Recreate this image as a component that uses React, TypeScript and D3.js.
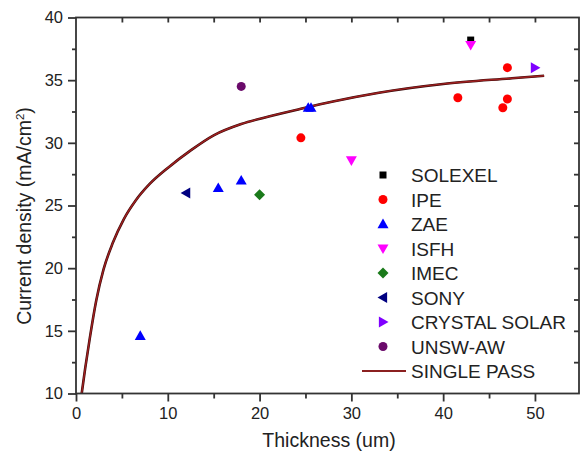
import React, { useRef, useEffect } from 'react';
import * as d3 from 'd3';

// scatter data, one small array pair per group
const solexelX = [43];
const solexelY = [38.2];
const ipeX = [24.5, 41.6, 47, 47, 46.5];
const ipeY = [30.4, 33.6, 36, 33.5, 32.8];
const zaeX = [7, 15.5, 18, 25.3, 25.6];
const zaeY = [14.6, 26.4, 27, 32.8, 32.8];
const isfhX = [43, 30];
const isfhY = [37.8, 28.6];
const imecX = [20];
const imecY = [25.85];
const sonyX = [12];
const sonyY = [26];
const crystalX = [50];
const crystalY = [36];
const unswX = [18];
const unswY = [34.5];

// single pass curve
const passX = [0.62, 1.0, 1.5, 2.2, 3.0, 4.0, 5.2, 6.5, 8.0, 10.0, 12.5, 15, 18, 21, 24.4, 28, 33, 40, 47.5, 51];
const passY = [10, 12.0, 14.4, 17.4, 19.9, 22.0, 23.9, 25.4, 26.7, 28.0, 29.4, 30.6, 31.5, 32.1, 32.7, 33.3, 34.0, 34.7, 35.15, 35.35];

const xTicks = [0, 10, 20, 30, 40, 50];
const yTicks = [10, 15, 20, 25, 30, 35, 40];

const series = [
  { name: 'SOLEXEL', xs: solexelX, ys: solexelY, color: '#000000', shape: 'square' },
  { name: 'IPE', xs: ipeX, ys: ipeY, color: '#ff0000', shape: 'circle' },
  { name: 'ZAE', xs: zaeX, ys: zaeY, color: '#0000ff', shape: 'up' },
  { name: 'ISFH', xs: isfhX, ys: isfhY, color: '#ff00ff', shape: 'down' },
  { name: 'IMEC', xs: imecX, ys: imecY, color: '#1a7a1a', shape: 'diamond' },
  { name: 'SONY', xs: sonyX, ys: sonyY, color: '#000080', shape: 'left' },
  { name: 'CRYSTAL SOLAR', xs: crystalX, ys: crystalY, color: '#7f00ff', shape: 'right' },
  { name: 'UNSW-AW', xs: unswX, ys: unswY, color: '#6a0a6a', shape: 'circle' },
];

const markerPath = (shape, cx, cy) => {
  const s = 5.5;
  switch (shape) {
    case 'square':
      return `M${cx - 3.5},${cy - 3.5}h7v7h-7Z`;
    case 'circle':
      return `M${cx - 4.5},${cy}a4.5,4.5 0 1,0 9,0a4.5,4.5 0 1,0 -9,0Z`;
    case 'up':
      return `M${cx},${cy - s}L${cx + s},${cy + s * 0.75}L${cx - s},${cy + s * 0.75}Z`;
    case 'down':
      return `M${cx},${cy + s}L${cx + s},${cy - s * 0.75}L${cx - s},${cy - s * 0.75}Z`;
    case 'left':
      return `M${cx - s},${cy}L${cx + s * 0.75},${cy - s}L${cx + s * 0.75},${cy + s}Z`;
    case 'right':
      return `M${cx + s},${cy}L${cx - s * 0.75},${cy - s}L${cx - s * 0.75},${cy + s}Z`;
    case 'diamond':
      return `M${cx},${cy - 5.5}L${cx + 5.5},${cy}L${cx},${cy + 5.5}L${cx - 5.5},${cy}Z`;
    default:
      return '';
  }
};

const App = () => {
  const svgRef = useRef(null);

  useEffect(() => {
    const svg = d3.select(svgRef.current);
    svg.selectAll('*').remove();

    const left = 76, right = 579, top = 17.5, bottom = 393.5;
    const axisColor = '#333333';
    const font = 'Arial, "Liberation Sans", sans-serif';

    const x = d3.scaleLinear().domain([0, 54.8]).range([left, right]);
    const y = d3.scaleLinear().domain([10, 40]).range([bottom, top]);

    // single pass curve
    const line = d3.line()
      .x(d => x(d[0]))
      .y(d => y(d[1]))
      .curve(d3.curveMonotoneX);
    const passData = passX.map((v, i) => [v, passY[i]]);
    svg.append('path')
      .attr('d', line(passData))
      .attr('fill', 'none')
      .attr('stroke', '#3a0a0a')
      .attr('stroke-width', 2.6);
    svg.append('path')
      .attr('d', line(passData))
      .attr('fill', 'none')
      .attr('stroke', '#a02020')
      .attr('stroke-width', 1.4);

    // scatter markers
    series.forEach(s => {
      svg.append('g')
        .selectAll('path')
        .data(s.xs.map((v, i) => [v, s.ys[i]]))
        .join('path')
        .attr('d', d => markerPath(s.shape, x(d[0]), y(d[1])))
        .attr('fill', s.color);
    });

    // frame
    svg.append('rect')
      .attr('x', left).attr('y', top)
      .attr('width', right - left).attr('height', bottom - top)
      .attr('fill', 'none')
      .attr('stroke', axisColor)
      .attr('stroke-width', 1.8);

    // bottom axis: ticks outward, minor at 5
    const xAxisG = svg.append('g')
      .attr('transform', `translate(0,${bottom})`)
      .call(d3.axisBottom(x).tickValues(xTicks).tickSize(8).tickPadding(6).tickFormat(d3.format('d')));
    xAxisG.select('.domain').remove();
    xAxisG.selectAll('line').attr('stroke', axisColor).attr('stroke-width', 1.8);
    xAxisG.selectAll('text').attr('font-size', 16.5).attr('font-family', font).attr('fill', '#222');
    svg.append('g')
      .attr('transform', `translate(0,${bottom})`)
      .call(d3.axisBottom(x).tickValues([5, 15, 25, 35, 45]).tickSize(5).tickFormat(() => ''))
      .call(g => g.select('.domain').remove())
      .selectAll('line').attr('stroke', axisColor).attr('stroke-width', 1.8);

    // top ticks inward
    svg.append('g')
      .attr('transform', `translate(0,${top})`)
      .call(d3.axisBottom(x).tickValues([5, 10, 15, 20, 25, 30, 35, 40, 45, 50]).tickSize(5).tickFormat(() => ''))
      .call(g => g.select('.domain').remove())
      .selectAll('line').attr('stroke', axisColor).attr('stroke-width', 1.8);

    // left axis: ticks outward, minor at 2.5
    const yAxisG = svg.append('g')
      .attr('transform', `translate(${left},0)`)
      .call(d3.axisLeft(y).tickValues(yTicks).tickSize(8).tickPadding(5));
    yAxisG.select('.domain').remove();
    yAxisG.selectAll('line').attr('stroke', axisColor).attr('stroke-width', 1.8);
    yAxisG.selectAll('text').attr('font-size', 16.5).attr('font-family', font).attr('fill', '#222');
    svg.append('g')
      .attr('transform', `translate(${left},0)`)
      .call(d3.axisLeft(y).tickValues([12.5, 17.5, 22.5, 27.5, 32.5, 37.5]).tickSize(4).tickFormat(() => ''))
      .call(g => g.select('.domain').remove())
      .selectAll('line').attr('stroke', axisColor).attr('stroke-width', 1.8);

    // right ticks inward
    svg.append('g')
      .attr('transform', `translate(${right},0)`)
      .call(d3.axisRight(y).tickValues([12.5, 15, 17.5, 20, 22.5, 25, 27.5, 30, 32.5, 35, 37.5]).tickSize(-5).tickFormat(() => ''))
      .call(g => g.select('.domain').remove())
      .selectAll('line').attr('stroke', axisColor).attr('stroke-width', 1.8);

    // axis titles
    svg.append('text')
      .attr('x', 329)
      .attr('y', 447)
      .attr('text-anchor', 'middle')
      .attr('font-size', 19.5)
      .attr('font-family', font)
      .attr('fill', '#222')
      .text('Thickness (um)');

    const yt = svg.append('text')
      .attr('transform', `translate(31,216) rotate(-90)`)
      .attr('text-anchor', 'middle')
      .attr('font-size', 19.5)
      .attr('font-family', font)
      .attr('fill', '#222');
    yt.append('tspan').text('Current density (mA/cm');
    yt.append('tspan').attr('font-size', 11.5).attr('dy', -7).text('2');
    yt.append('tspan').attr('dy', 7).text(')');

    // legend
    const legX = 383, legTextX = 411, legY0 = 175, legStep = 24.5;
    series.forEach((s, i) => {
      const cy = legY0 + i * legStep;
      svg.append('path')
        .attr('d', markerPath(s.shape, legX, cy))
        .attr('fill', s.color);
      svg.append('text')
        .attr('x', legTextX)
        .attr('y', cy + 7)
        .attr('font-size', 19)
        .attr('font-family', font)
        .attr('fill', '#222')
        .text(s.name);
    });
    const lastY = legY0 + series.length * legStep;
    svg.append('line')
      .attr('x1', 362).attr('x2', 406)
      .attr('y1', lastY).attr('y2', lastY)
      .attr('stroke', '#8b2020')
      .attr('stroke-width', 2);
    svg.append('text')
      .attr('x', legTextX)
      .attr('y', lastY + 7)
      .attr('font-size', 19)
      .attr('font-family', font)
      .attr('fill', '#222')
      .text('SINGLE PASS');
  }, []);

  return (
    <svg
      ref={svgRef}
      width={580}
      height={455}
      style={{ position: 'absolute', left: 0, top: 0, background: '#fff' }}
    ></svg>
  );
};

export default App;
